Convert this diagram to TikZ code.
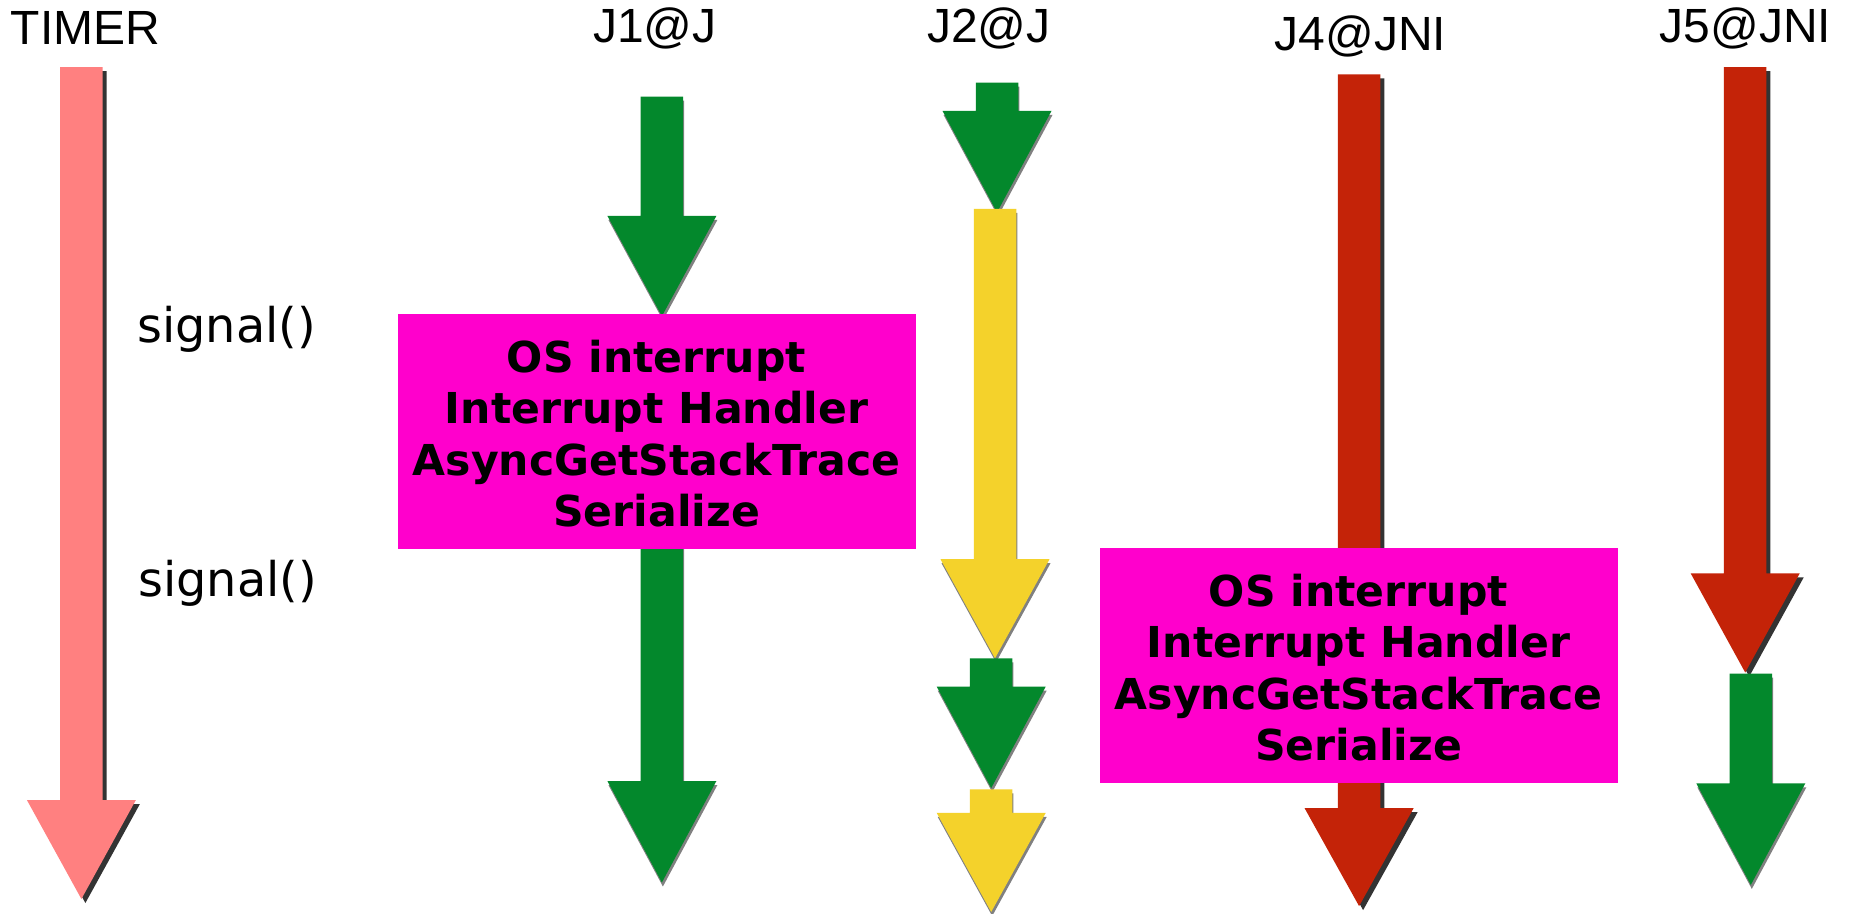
\documentclass[tikz,border=0pt]{standalone}
\usepackage{fontspec}
\setmainfont{Liberation Sans}
\newfontfamily\dejavu{DejaVu Sans}
\usetikzlibrary{calc}
\definecolor{salmon}{HTML}{FF8080}
\definecolor{jgreen}{HTML}{03882C}
\definecolor{jyellow}{HTML}{F4D22B}
\definecolor{jred}{HTML}{C42308}
\definecolor{jpink}{HTML}{FF00CC}
\definecolor{darkshadow}{HTML}{333333}
\definecolor{lightshadow}{HTML}{808080}
% #1 centre x, #2 top y, #3 head start y, #4 tip y, #5 fill, #6 shadow colour, #7 shadow dx
\newcommand\blkarrow[7]{%
  \fill[#6,shift={(#7,4)}] ({#1-21.25},#2) -- ({#1+21.25},#2) -- ({#1+21.25},#3) -- ({#1+54.5},#3)
     -- (#1,#4) -- ({#1-54.5},#3) -- ({#1-21.25},#3) -- cycle;
  \fill[#5] ({#1-21.25},#2) -- ({#1+21.25},#2) -- ({#1+21.25},#3) -- ({#1+54.5},#3)
     -- (#1,#4) -- ({#1-54.5},#3) -- ({#1-21.25},#3) -- cycle;
}
\begin{document}
\begin{tikzpicture}[x=1pt,y=-1pt,
  head/.style={font=\fontsize{48}{56}\selectfont, inner sep=0pt, anchor=center},
  sig/.style={font=\dejavu\fontsize{47.8}{56}\selectfont, inner sep=0pt, anchor=center},
  osbox/.style={fill=jpink, minimum width=518pt, minimum height=234.6pt, inner sep=0pt},
  ostext/.style={inner sep=0pt, align=center, font=\dejavu\bfseries\fontsize{42.6}{51.5}\selectfont, text=black}]
\useasboundingbox (0,0) rectangle (1850,913);
\fill[white] (0,0) rectangle (1850,913);

% TIMER
\blkarrow{81.4}{67.2}{800}{899}{salmon}{darkshadow}{4}
% J1
\blkarrow{661.9}{96.7}{215.9}{316.2}{jgreen}{lightshadow}{1}
\blkarrow{661.9}{540}{781}{882.5}{jgreen}{lightshadow}{1}
% J2
\blkarrow{997}{82.6}{110.9}{212.4}{jgreen}{lightshadow}{1}
\blkarrow{995}{208.8}{559.2}{658.3}{jyellow}{lightshadow}{1}
\blkarrow{991.2}{658.3}{686.6}{788.1}{jgreen}{lightshadow}{1}
\blkarrow{991.2}{789.3}{812.9}{912}{jyellow}{lightshadow}{1}
% J4
\blkarrow{1359.1}{74.3}{808.2}{906.1}{jred}{darkshadow}{4}
% J5
\blkarrow{1745.2}{67.2}{573.4}{672.5}{jred}{darkshadow}{4}
\blkarrow{1750.8}{673.7}{783.4}{884.9}{jgreen}{lightshadow}{1}

% boxes
\node[osbox] (box1) at (656.5,431.2) {};
\node[ostext] (box1text) at ($(box1.center)+(0,2.4)$) {OS interrupt\\Interrupt Handler\\AsyncGetStackTrace\\Serialize};
\node[osbox] (box2) at (1358.5,665.4) {};
\node[ostext] (box2text) at ($(box2.center)+(0,2.4)$) {OS interrupt\\Interrupt Handler\\AsyncGetStackTrace\\Serialize};

% labels
\node[head] (timer) at (85.5,28.3) {TIMER};
\node[head] (j1) at (654.8,28.3) {J1@J};
\node[head] (j2) at (988.7,28.3) {J2@J};
\node[head] (j4) at (1360.3,36.6) {J4@JNI};
\node[head] (j5) at (1745.5,28.3) {J5@JNI};
\node[sig] (sig1) at (226.5,329) {signal()};
\node[sig] (sig2) at (227.7,583.8) {signal()};
\end{tikzpicture}
\end{document}
